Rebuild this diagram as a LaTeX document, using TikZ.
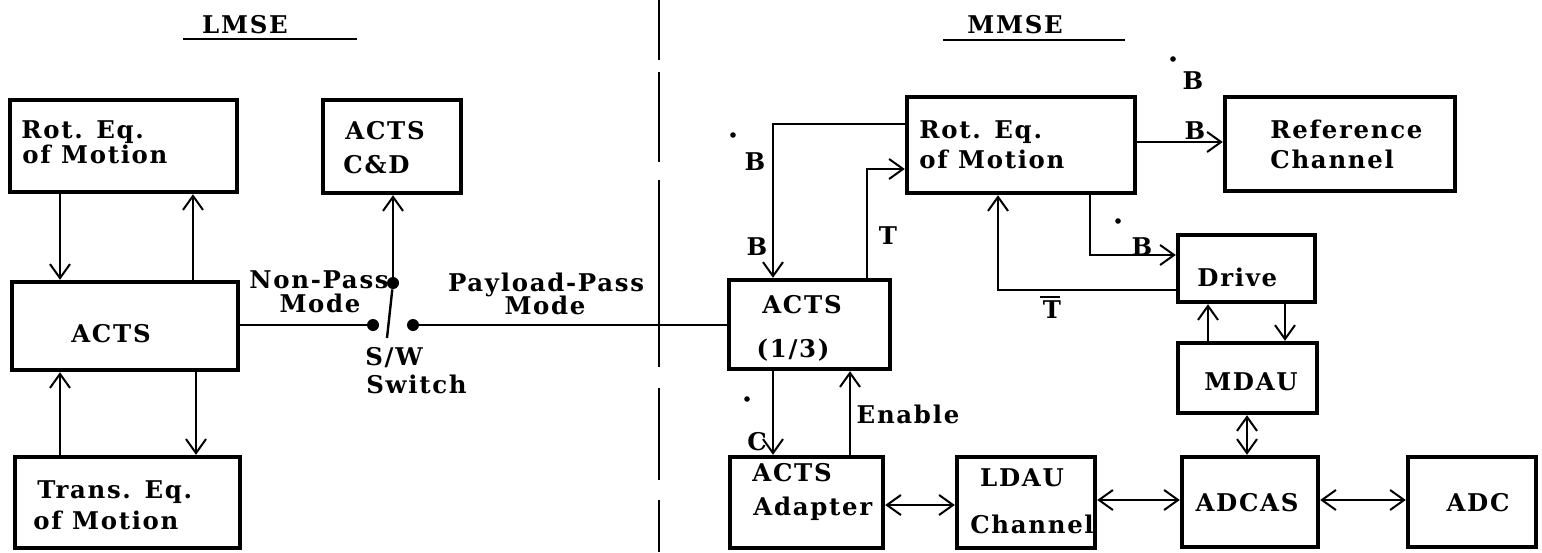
\documentclass[tikz,border=0pt]{standalone}
\usepackage{fontspec}
\setmainfont{DejaVu Serif}[LetterSpace=7]
\usetikzlibrary{arrows.meta,fit}
\begin{document}
\begin{tikzpicture}[x=0.5pt,y=-0.5pt,
  box/.style={draw,line width=2.2pt,inner sep=0pt},
  lbl/.style={font=\bfseries\fontsize{12.2}{16}\selectfont,inner sep=0pt,text height=8.9pt,text depth=0pt},
  ln/.style={line width=1pt},
  arr/.style={line width=1pt,-{Straight Barb[length=7pt,width=10pt,line width=1pt]}},
  darr/.style={line width=1pt,{Straight Barb[length=7pt,width=10pt,line width=1pt]}-{Straight Barb[length=7pt,width=10pt,line width=1pt]}},
  sdot/.style={circle,fill,inner sep=0pt,minimum size=6pt},
  bdot/.style={circle,fill,inner sep=0pt,minimum size=2.8pt}]
\useasboundingbox (0,0) rectangle (1542,552);

% divider
\foreach \a/\b in {0/60,72/162,180/367,388/480,500/552}
  \draw[line width=1.1pt] (659,\a) -- (659,\b);

% titles
\node[lbl] (tL) at (245,25) {LMSE};
\draw[line width=1.2pt] (183,39) -- (357,39);
\node[lbl] (tM) at (1015,25) {MMSE};
\draw[line width=1.2pt] (943,40) -- (1125,40);

% ---------- LMSE boxes
\node[box,fit={(10,100) (237,192)}] (rotL) {};
\node[lbl,anchor=west] (rotL1) at (21,130) {Rot. Eq.};
\node[lbl,anchor=west] (rotL2) at (22,155) {of Motion};

\node[box,fit={(323,100) (461,193)}] (cdL) {};
\node[lbl,anchor=west] (cdL1) at (345,131) {ACTS};
\node[lbl,anchor=west] (cdL2) at (343,165) {C\&D};

\node[box,fit={(12,282) (238,370)}] (actsL) {};
\node[lbl] (actsL1) at (111,334) {ACTS};

\node[box,fit={(15,457) (240,548)}] (transL) {};
\node[lbl,anchor=west] (transL1) at (37,490) {Trans. Eq.};
\node[lbl,anchor=west] (transL2) at (33,521) {of Motion};

% LMSE connectors
\draw[arr] (60,0 |- rotL.south) -- (60,0 |- actsL.north);
\draw[arr] (193,0 |- actsL.north) -- (193,0 |- rotL.south);
\draw[arr] (196,0 |- actsL.south) -- (196,0 |- transL.north);
\draw[arr] (60,0 |- transL.north) -- (60,0 |- actsL.south);

% switch
\node[sdot] (swL) at (373,325) {};
\node[sdot] (swR) at (413,325) {};
\node[sdot] (swP) at (393,283) {};
\coordinate (swE) at (387,338);
\draw[ln] (actsL.east |- swL) -- (swL);
\draw[line width=1.2pt] (swE) -- (swP);
\draw[arr] (swP) -- (swP |- cdL.south);

\node[lbl] (np1) at (319,280) {Non-Pass};
\node[lbl] (np2) at (320,304) {Mode};
\node[lbl] (pp1) at (546,283) {Payload-Pass};
\node[lbl] (pp2) at (545,306) {Mode};
\node[lbl,anchor=west] (sw1) at (365,357) {S/W};
\node[lbl,anchor=west] (sw2) at (366,385) {Switch};

% ---------- MMSE boxes
\node[box,fit={(729,280) (890,369)}] (actsM) {};
\node[lbl] (actsM1) at (802,305) {ACTS};
\node[lbl] (actsM2) at (793,349) {(1/3)};

\node[box,fit={(730,457) (883,548)}] (adapt) {};
\node[lbl,anchor=west] (adapt1) at (752,473) {ACTS};
\node[lbl,anchor=west] (adapt2) at (753,507) {Adapter};

\node[box,fit={(957,457) (1095,548)}] (ldau) {};
\node[lbl] (ldau1) at (1022,478) {LDAU};
\node[lbl] (ldau2) at (1032,525) {Channel};

\node[box,fit={(907,97) (1135,193)}] (rotM) {};
\node[lbl,anchor=west] (rotM1) at (919,130) {Rot. Eq.};
\node[lbl,anchor=west] (rotM2) at (919,160) {of Motion};

\node[box,fit={(1225,97) (1455,191)}] (refC) {};
\node[lbl,anchor=west] (refC1) at (1270,130) {Reference};
\node[lbl,anchor=west] (refC2) at (1270,160) {Channel};

\node[box,fit={(1178,235) (1315,302)}] (drive) {};
\node[lbl,anchor=west] (drive1) at (1197,278) {Drive};

\node[box,fit={(1178,343) (1317,413)}] (mdau) {};
\node[lbl] (mdau1) at (1251,382) {MDAU};

\node[box,fit={(1182,457) (1318,547)}] (adcas) {};
\node[lbl] (adcas1) at (1247,503) {ADCAS};

\node[box,fit={(1408,457) (1536,547)}] (adc) {};
\node[lbl] (adc1) at (1478,503) {ADC};

% MMSE connectors
\draw[ln] (swR) -- (swR -| actsM.west);
\draw[arr] (rotM.west |- 0,124) -- (773,124) -- (773,0 |- actsM.north);
\draw[arr] (867,0 |- actsM.north) -- (867,169) -- (rotM.west |- 0,169);
\draw[arr] (rotM.east |- 0,142) -- (refC.west |- 0,142);
\draw[arr] (1090,0 |- rotM.south) -- (1090,255) -- (drive.west |- 0,255);
\draw[arr] (drive.west |- 0,290) -- (998,290) -- (998,0 |- rotM.south);
\draw[arr] (1208,0 |- mdau.north) -- (1208,0 |- drive.south);
\draw[arr] (1285,0 |- drive.south) -- (1285,0 |- mdau.north);
\draw[darr] (1247,0 |- mdau.south) -- (1247,0 |- adcas.north);
\draw[darr] (adcas.east |- 0,500) -- (adc.west |- 0,500);
\draw[darr] (ldau.east |- 0,500) -- (adcas.west |- 0,500);
\draw[darr] (adapt.east |- 0,505) -- (ldau.west |- 0,505);
\draw[arr] (773,0 |- actsM.south) -- (773,0 |- adapt.north);
\draw[arr] (850,0 |- adapt.north) -- (850,0 |- actsM.south);

% labels on MMSE connectors
\node[bdot] (d1) at (733,135) {};
\node[lbl] (b1) at (755,162) {B};
\node[lbl] (b2) at (757,247) {B};
\node[lbl] (t1) at (888,236) {T};
\node[bdot] (d2) at (1173,59) {};
\node[lbl] (b3) at (1193,81) {B};
\node[lbl] (b4) at (1195,131) {B};
\node[bdot] (d3) at (1118,221) {};
\node[lbl] (b5) at (1142,247) {B};
\node[lbl] (t2) at (1052,310) {T};
\draw[line width=0.8pt] (1040,297) -- (1060,297);
\node[bdot] (d4) at (747,399) {};
\node[lbl] (c1) at (757,442) {C};
\node[lbl] (en) at (908,415) {Enable};
\end{tikzpicture}
\end{document}
